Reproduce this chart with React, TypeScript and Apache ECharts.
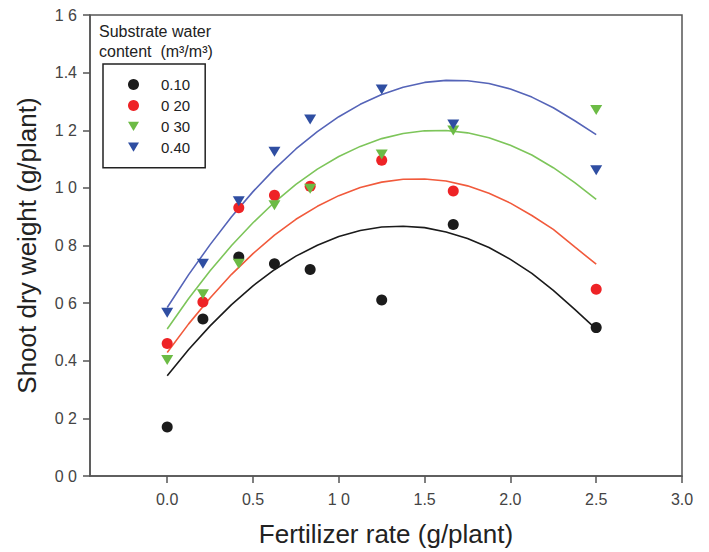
import React, { useEffect, useRef } from "react";
import * as echarts from "echarts";

// Fertilizer rates (g/plant)
const fertilizer = [0, 0.208, 0.417, 0.625, 0.833, 1.25, 1.667, 2.5];
// Shoot dry weight (g/plant) per substrate water content
const swc010 = [0.17, 0.545, 0.76, 0.737, 0.717, 0.611, 0.873, 0.515];
const swc020 = [0.46, 0.604, 0.931, 0.974, 1.006, 1.096, 0.989, 0.648];
const swc030 = [0.403, 0.631, 0.737, 0.94, 0.997, 1.116, 1.199, 1.27];
const swc040 = [0.567, 0.737, 0.954, 1.125, 1.237, 1.341, 1.22, 1.061];

// Fitted curves, every 0.125 g/plant
const fitX = [0, 0.125, 0.25, 0.375, 0.5, 0.625, 0.75, 0.875, 1.0, 1.125, 1.25, 1.375, 1.5, 1.625, 1.75, 1.875, 2.0, 2.125, 2.25, 2.375, 2.5];
const fit010 = [0.348, 0.439, 0.521, 0.595, 0.66, 0.716, 0.763, 0.801, 0.831, 0.852, 0.864, 0.867, 0.862, 0.847, 0.824, 0.793, 0.752, 0.703, 0.644, 0.578, 0.51];
const fit020 = [0.429, 0.528, 0.618, 0.7, 0.772, 0.836, 0.891, 0.936, 0.973, 1.001, 1.02, 1.03, 1.031, 1.024, 1.007, 0.981, 0.947, 0.904, 0.856, 0.795, 0.735];
const fit030 = [0.51, 0.616, 0.712, 0.8, 0.879, 0.95, 1.012, 1.065, 1.109, 1.144, 1.171, 1.189, 1.198, 1.199, 1.191, 1.174, 1.148, 1.114, 1.07, 1.018, 0.96];
const fit040 = [0.585, 0.699, 0.803, 0.9, 0.987, 1.065, 1.135, 1.195, 1.247, 1.29, 1.324, 1.349, 1.366, 1.373, 1.372, 1.362, 1.343, 1.315, 1.278, 1.233, 1.185];

const seriesNames = ["0.10", "0 20", "0 30", "0.40"];
const xTickValues = [0, 0.5, 1.0, 1.5, 2.0, 2.5, 3.0];
const xTickLabels = ["0.0", "0.5", "1 0", "1.5", "2.0", "2.5", "3.0"];
const yTickLabels = ["0 0", "0 2", "0.4", "0 6", "0 8", "1 0", "1 2", "1.4", "1 6"];

const FONT = '"Liberation Sans", Arial, sans-serif';
const DOWN_TRI = "path://M0,0L12,0L6,10Z";

const markerColors = ["#1b1b1b", "#ee2326", "#6cbb45", "#2f4ea2"];
const lineColors = ["#1b1b1b", "#f15a3c", "#7dc55a", "#5564b8"];
const symbols = ["circle", "circle", DOWN_TRI, DOWN_TRI];
const symbolSizes: any[] = [11, 11, [12, 10], [12, 10]];

export default function App() {
  const ref = useRef<HTMLDivElement>(null);
  useEffect(() => {
    if (!ref.current) return;
    const chart = echarts.init(ref.current, null, { renderer: "svg" });
    const data = [swc010, swc020, swc030, swc040];
    const fits = [fit010, fit020, fit030, fit040];
    const series: any[] = [];
    fits.forEach((f, i) => {
      series.push({
        name: "fit " + seriesNames[i],
        type: "line",
        data: fitX.map((x, k) => [x, f[k]]),
        smooth: false,
        showSymbol: false,
        symbol: "none",
        lineStyle: { color: lineColors[i], width: 1.6 },
        z: 2,
        silent: true,
      });
    });
    data.forEach((d, i) => {
      series.push({
        name: seriesNames[i],
        type: "scatter",
        data: fertilizer.map((x, k) => [x, d[k]]),
        symbol: symbols[i],
        symbolSize: symbolSizes[i],
        itemStyle: { color: markerColors[i], opacity: 1 },
        z: 5,
      });
    });
    chart.setOption({
      animation: false,
      backgroundColor: "#ffffff",
      grid: {
        left: 90,
        right: 27,
        top: 15,
        bottom: 75,
        show: true,
        borderColor: "#555",
        borderWidth: 1.5,
      },
      legend: {
        data: seriesNames.map((n, i) => ({ name: n, icon: symbols[i] })),
        orient: "vertical",
        left: 103,
        top: 64,
        padding: [13, 15, 13, 25],
        itemWidth: 11,
        itemHeight: 11,
        itemGap: 5.9,
        borderColor: "#222",
        borderWidth: 1.5,
        backgroundColor: "#fff",
        selectedMode: false,
        textStyle: {
          fontFamily: FONT,
          fontSize: 15,
          color: "#222",
          lineHeight: 14,
          padding: [0, 0, 0, 17],
        },
      },
      graphic: [
        {
          type: "text",
          x: 99,
          y: 31,
          style: {
            text: "Substrate water",
            fontFamily: FONT,
            fontSize: 16,
            fill: "#222",
            verticalAlign: "middle",
          },
        },
        {
          type: "text",
          x: 99,
          y: 51,
          style: {
            text: "content  (m³/m³)",
            fontFamily: FONT,
            fontSize: 16,
            fill: "#222",
            verticalAlign: "middle",
          },
        },
      ],
      xAxis: {
        type: "value",
        min: -0.45,
        max: 3.0,
        name: "Fertilizer rate (g/plant)",
        nameLocation: "middle",
        nameGap: 45,
        nameTextStyle: { fontFamily: FONT, fontSize: 26, color: "#222" },
        axisLine: { show: true, onZero: false, lineStyle: { color: "#555", width: 1.5 } },
        axisTick: {
          show: true,
          inside: false,
          length: 7,
          customValues: xTickValues,
          lineStyle: { color: "#555", width: 1.5 },
        },
        axisLabel: {
          customValues: xTickValues,
          margin: 15,
          fontFamily: FONT,
          fontSize: 16,
          color: "#444",
          formatter: (v: number) => {
            const idx = xTickValues.findIndex((t) => Math.abs(t - v) < 1e-6);
            return idx >= 0 ? xTickLabels[idx] : "";
          },
        },
        splitLine: { show: false },
      },
      yAxis: {
        type: "value",
        min: 0,
        max: 1.6,
        interval: 0.2,
        name: "Shoot dry weight (g/plant)",
        nameLocation: "middle",
        nameGap: 50,
        nameTextStyle: { fontFamily: FONT, fontSize: 26, color: "#222" },
        axisLine: { show: true, onZero: false, lineStyle: { color: "#555", width: 1.5 } },
        axisTick: { show: true, inside: false, length: 7, lineStyle: { color: "#555", width: 1.5 } },
        axisLabel: {
          margin: 13,
          fontFamily: FONT,
          fontSize: 16,
          color: "#444",
          formatter: (v: number) => {
            const idx = Math.round(v / 0.2);
            return yTickLabels[idx] ?? "";
          },
        },
        splitLine: { show: false },
      },
      series,
    });
    return () => chart.dispose();
  }, []);
  return (
    <div
      ref={ref}
      style={{ position: "fixed", left: 0, top: 0, width: 709, height: 552, background: "#fff" }}
    />
  );
}
